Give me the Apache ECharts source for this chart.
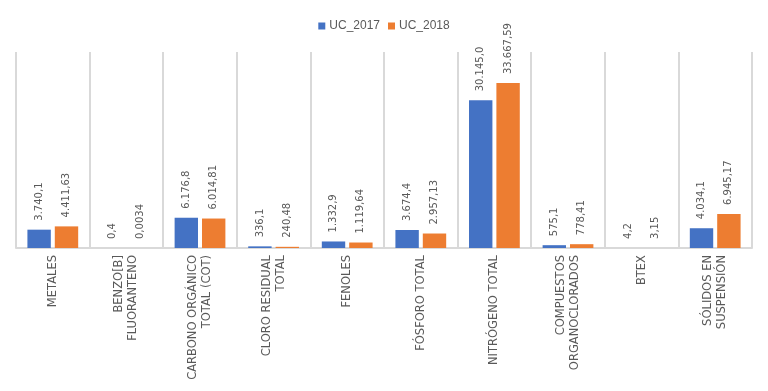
<!DOCTYPE html>
<html>
<head>
<meta charset="utf-8">
<script src="https://cdn.jsdelivr.net/npm/echarts@6/dist/echarts.min.js"></script>
<style>
html,body{margin:0;padding:0;background:#fff;}
#chart{width:768px;height:391px;}
</style>
</head>
<body>
<div id="chart"></div>
<script>
var categories = [
  "METALES",
  "BENZO[B]\nFLUORANTENO",
  "CARBONO ORGÁNICO\nTOTAL (COT)",
  "CLORO RESIDUAL\nTOTAL",
  "FENOLES",
  "FÓSFORO TOTAL",
  "NITRÓGENO TOTAL",
  "COMPUESTOS\nORGANOCLORADOS",
  "BTEX",
  "SÓLIDOS EN\nSUSPENSIÓN"
];
var uc2017 = [3740.1, 0.4, 6176.8, 336.1, 1332.9, 3674.4, 30145.0, 575.1, 4.2, 4034.1];
var uc2018 = [4411.63, 0.0034, 6014.81, 240.48, 1119.64, 2957.13, 33667.59, 778.41, 3.15, 6945.17];
var seriesNames = ["UC_2017", "UC_2018"];
var minDecimals = [1, 2];

function fmt(v, minDec) {
  var s = String(v);
  var parts = s.split('.');
  var ip = parts[0];
  var fp = parts[1] || '';
  while (fp.length < minDec) fp += '0';
  ip = ip.replace(/\B(?=(\d{3})+(?!\d))/g, '.');
  return fp.length ? ip + ',' + fp : ip;
}

var chart = echarts.init(document.getElementById('chart'), null, {renderer: 'canvas'});
var labelBase = {
  show: true,
  position: 'top',
  rotate: 90,
  align: 'left',
  verticalAlign: 'middle',
  distance: 9,
  color: '#595959',
  fontSize: 10,
  fontFamily: 'DejaVu Sans, sans-serif'
};
var option = {
  animation: false,
  backgroundColor: '#ffffff',
  legend: {
    data: seriesNames,
    top: 15,
    left: 'center',
    itemWidth: 7,
    itemHeight: 7,
    itemGap: 8,
    icon: 'rect',
    textStyle: {color: '#595959', fontSize: 12, fontFamily: 'Liberation Sans, Arial, sans-serif', padding: [0, 0, 0, -1]}
  },
  grid: {left: 16, right: 16, top: 52, bottom: 143, containLabel: false},
  xAxis: {
    type: 'category',
    data: categories,
    axisLine: {show: true, lineStyle: {color: '#d9d9d9', width: 2}},
    axisTick: {show: false},
    splitLine: {show: true, interval: 0, lineStyle: {color: '#d9d9d9', width: 2}},
    axisLabel: {
      interval: 0,
      rotate: 90,
      margin: 7,
      color: '#595959',
      fontSize: 11.5,
      lineHeight: 14,
      fontFamily: 'DejaVu Sans, sans-serif'
    }
  },
  yAxis: {
    type: 'value',
    min: 0,
    max: 40000,
    interval: 10000,
    show: false,
    splitLine: {show: false}
  },
  series: [
    {
      name: seriesNames[0],
      type: 'bar',
      data: uc2017,
      barGap: '17%',
      barCategoryGap: '31%',
      itemStyle: {color: '#4472C4'},
      label: Object.assign({}, labelBase, {formatter: function (p) { return fmt(p.value, minDecimals[0]); }})
    },
    {
      name: seriesNames[1],
      type: 'bar',
      data: uc2018,
      barGap: '17%',
      barCategoryGap: '31%',
      itemStyle: {color: '#ED7D31'},
      label: Object.assign({}, labelBase, {formatter: function (p) { return fmt(p.value, minDecimals[1]); }})
    }
  ]
};
chart.setOption(option);
</script>
</body>
</html>
